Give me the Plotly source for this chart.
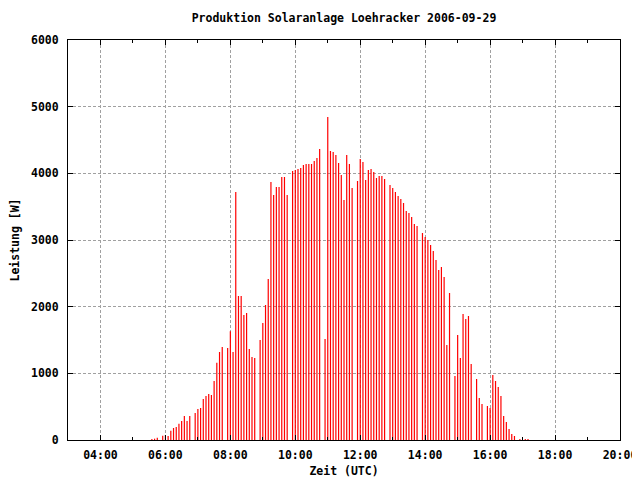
import plotly.graph_objects as go

DAY = "2006-09-29"

times = [
    "05:35", "05:40", "05:45", "05:55", "06:00", "06:05", "06:10", "06:15", "06:20", "06:25",
    "06:30", "06:35", "06:40", "06:45", "06:55", "07:00", "07:05", "07:10", "07:15", "07:20",
    "07:25", "07:30", "07:35", "07:40", "07:45", "07:55", "08:00", "08:05", "08:10", "08:15",
    "08:20", "08:25", "08:30", "08:35", "08:40", "08:45", "08:55", "09:00", "09:05", "09:10",
    "09:15", "09:20", "09:25", "09:30", "09:35", "09:40", "09:45", "09:55", "10:00", "10:05",
    "10:10", "10:15", "10:20", "10:25", "10:30", "10:35", "10:40", "10:45", "10:55", "11:00",
    "11:05", "11:10", "11:15", "11:20", "11:25", "11:30", "11:35", "11:40", "11:45", "11:55",
    "12:00", "12:05", "12:10", "12:15", "12:20", "12:25", "12:30", "12:35", "12:40", "12:45",
    "12:55", "13:00", "13:05", "13:10", "13:15", "13:20", "13:25", "13:30", "13:35", "13:40",
    "13:45", "13:55", "14:00", "14:05", "14:10", "14:15", "14:20", "14:25", "14:30", "14:35",
    "14:40", "14:45", "14:55", "15:00", "15:05", "15:10", "15:15", "15:20", "15:25", "15:35",
    "15:40", "15:45", "15:55", "16:00", "16:05", "16:10", "16:15", "16:20", "16:25", "16:30",
    "16:35", "16:40", "16:45", "16:55", "17:05", "17:10",
]

power_w = [
    15, 20, 35, 65, 75, 60, 140, 180, 195, 245,
    285, 360, 285, 360, 405, 465, 480, 615, 660, 690,
    675, 885, 1160, 1320, 1395, 1380, 1630, 1320, 3720, 2160,
    2160, 1875, 1905, 1365, 1245, 1230, 1500, 1755, 2025, 2415,
    3870, 3675, 3795, 3795, 3945, 3945, 3675, 4035, 4050, 4065,
    4080, 4125, 4140, 4140, 4140, 4185, 4230, 4365, 1515, 4845,
    4335, 4320, 4275, 4155, 3975, 3600, 4275, 4140, 3780, 3885,
    4215, 4170, 3900, 4050, 4065, 4020, 3930, 3960, 3960, 3915,
    3825, 3780, 3720, 3660, 3615, 3555, 3435, 3405, 3345, 3240,
    3210, 3105, 3045, 3000, 2925, 2835, 2700, 2550, 2595, 2445,
    1425, 2205, 960, 1575, 1230, 1890, 1815, 1860, 1140, 915,
    630, 540, 510, 480, 975, 885, 795, 660, 360, 270,
    165, 90, 60, 15, 15, 15,
]

x_tick_vals = ["04:00", "06:00", "08:00", "10:00", "12:00", "14:00", "16:00", "18:00", "20:00"]
y_tick_vals = [0, 1000, 2000, 3000, 4000, 5000, 6000]

# impulses: vertical line from 0 to value for each sample
xs, ys = [], []
for t, v in zip(times, power_w):
    ts = f"{DAY} {t}"
    xs += [ts, ts, None]
    ys += [0, v, None]

FONT = "DejaVu Sans Mono"
F = dict(family=FONT, size=11.5, color="black", weight="bold")

# page body has an 8px margin, so the figure is sized/offset accordingly
W, H = 632, 472

fig = go.Figure()
fig.add_trace(go.Scatter(
    x=xs, y=ys, mode="lines",
    line=dict(color="#ff0000", width=1.2),
    showlegend=False, hoverinfo="skip",
))

fig.update_layout(
    width=W, height=H,
    margin=dict(l=60, r=20, t=32, b=40, autoexpand=False),
    paper_bgcolor="white", plot_bgcolor="white",
    font=F,
    title=dict(text="Produktion Solaranlage Loehracker 2006-09-29",
               x=0.5, xref="paper", xanchor="center",
               y=1 - 10 / H, yref="container", yanchor="middle",
               font=F),
)

fig.update_xaxes(
    type="date", automargin=False,
    range=[f"{DAY} 03:00", f"{DAY} 20:00"],
    tickmode="array",
    tickvals=[f"{DAY} {t}" for t in x_tick_vals],
    ticktext=x_tick_vals,
    ticks="inside", ticklen=5, tickcolor="black", tickwidth=1,
    minor=dict(dtick=3600000, tick0=f"{DAY} 03:00", ticks="inside", ticklen=3,
               tickcolor="black", showgrid=False),
    showline=True, linecolor="black", linewidth=1, mirror="allticks",
    showgrid=True, gridcolor="#a0a0a0", griddash="3px,2px", gridwidth=1,
    zeroline=False,
    tickfont=F,
    title=dict(text="Zeit (UTC)", standoff=6, font=F),
    ticklabelstandoff=4,
)

fig.update_yaxes(
    automargin=False,
    range=[0, 6000],
    tickmode="array", tickvals=y_tick_vals,
    ticks="inside", ticklen=5, tickcolor="black", tickwidth=1,
    showline=True, linecolor="black", linewidth=1, mirror="allticks",
    showgrid=True, gridcolor="#a0a0a0", griddash="3px,2px", gridwidth=1,
    zeroline=False,
    tickfont=F,
    title=dict(text="Leistung [W]", standoff=9, font=F),
    ticklabelstandoff=6,
)

fig.write_html("out.html")
